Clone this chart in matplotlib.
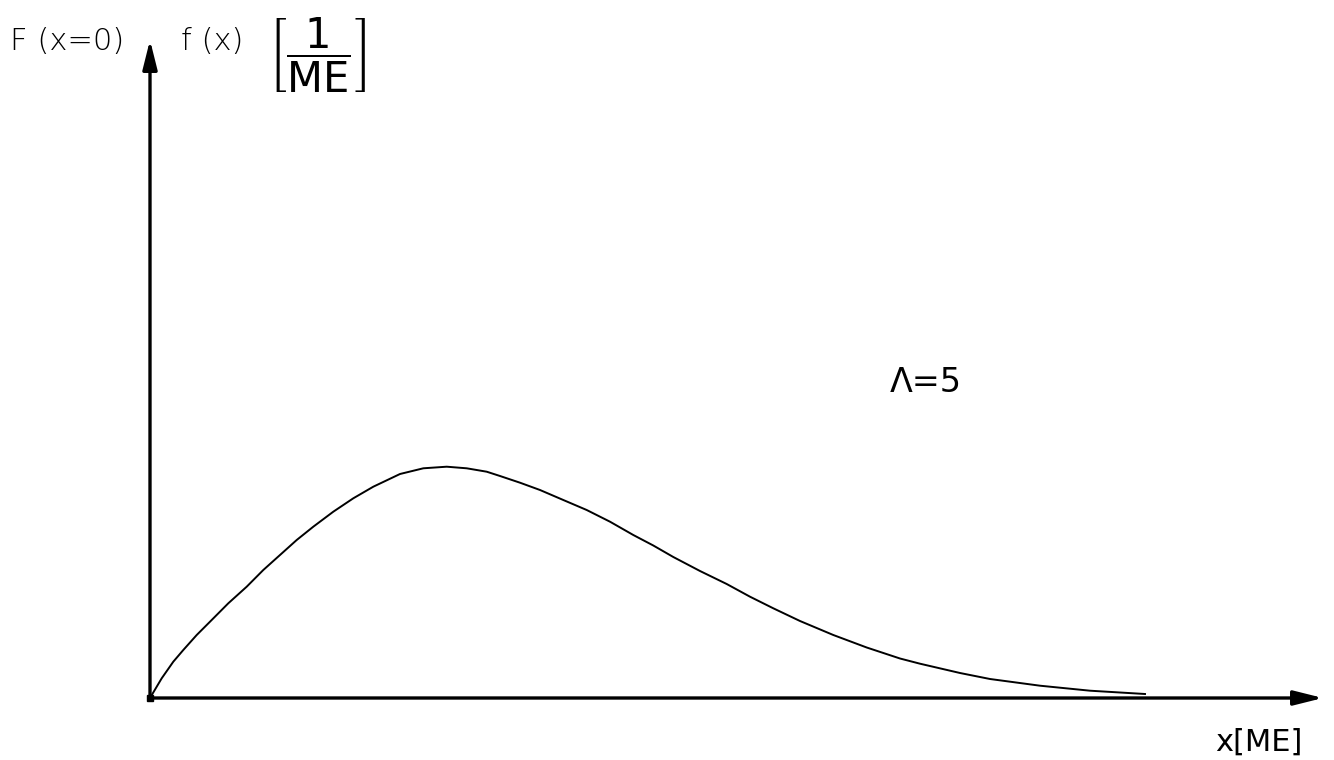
import matplotlib
matplotlib.use("Agg")
import matplotlib.pyplot as plt

# Curve: x in ME, f(x) in 1/ME (arbitrary scale)
x_vals = [0, 0.117, 0.233, 0.333, 0.467, 0.6, 0.783, 0.967, 1.133, 1.3, 1.467,
          1.633, 1.833, 2.033, 2.233, 2.5, 2.733, 2.967, 3.167, 3.367, 3.5,
          3.7, 3.9, 4.133, 4.367, 4.6, 4.833, 5.033, 5.233, 5.5, 5.767, 6.0,
          6.233, 6.5, 6.833, 7.167, 7.5, 7.7, 8.1, 8.4, 8.9, 9.4, 9.95]
f_vals = [0, 0.197, 0.363, 0.48, 0.63, 0.763, 0.947, 1.113, 1.28, 1.43, 1.58,
          1.713, 1.863, 1.997, 2.113, 2.24, 2.297, 2.313, 2.297, 2.263, 2.22,
          2.153, 2.08, 1.98, 1.88, 1.763, 1.63, 1.525, 1.41, 1.27, 1.14, 1.013,
          0.897, 0.77, 0.63, 0.505, 0.395, 0.343, 0.25, 0.19, 0.123, 0.073, 0.04]
F0_point = (0.0, 0.0)
lambda_label = "Λ=5"

plt.rcParams['font.family'] = ['DejaVu Sans']

fig = plt.figure(figsize=(13.34, 7.6), dpi=100)
ax = fig.add_axes([0, 0, 1, 1])
ax.set_xlim(-1.5, 11.84)
ax.set_ylim(-0.62, 6.98)
ax.axis('off')

arrow = dict(arrowstyle='-|>,head_length=0.8,head_width=0.2', lw=2.4,
             color='black', mutation_scale=22, shrinkA=0, shrinkB=0)
ax.annotate('', xy=(11.73, 0), xytext=(0, 0), arrowprops=arrow)
ax.annotate('', xy=(0, 6.58), xytext=(0, 0), arrowprops=arrow)

ax.plot(x_vals, f_vals, color='black', lw=1.4, solid_joinstyle='round')
ax.plot([F0_point[0]], [F0_point[1]], marker='s', color='black', markersize=5)

fs = 22
ax.text(-1.4, 6.56, "F (x=0)", fontsize=fs, ha='left', va='center', fontweight='light')
ax.text(0.31, 6.56, "f (x)", fontsize=fs, ha='left', va='center', fontweight='light')
ax.text(1.67, 6.43, r"$\left[\dfrac{1}{\mathrm{ME}}\right]$", fontsize=30,
        ha='center', va='center')
ax.text(7.4, 3.15, lambda_label, fontsize=24, ha='left', va='center')
ax.text(10.65, -0.44, "x[ME]", fontsize=fs, ha='left', va='center')

fig.savefig("out.png", dpi=100, facecolor='white')
